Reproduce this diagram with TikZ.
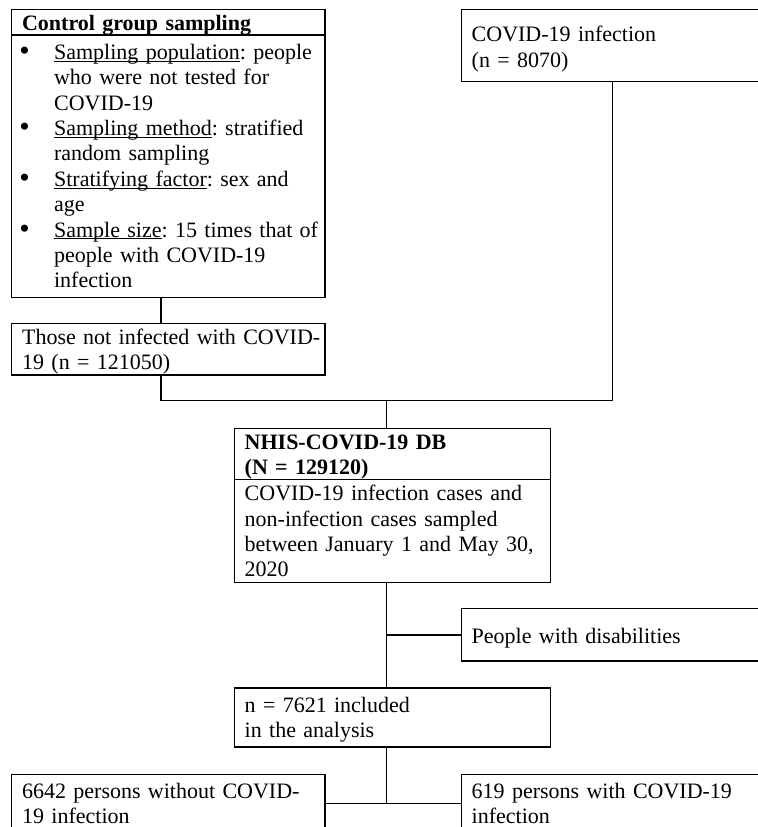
\documentclass[tikz,border=0pt]{standalone}
\usepackage{fontspec}
\usepackage{graphicx}
\setmainfont{Liberation Serif}
\newcommand{\undl}[1]{\setbox0\hbox{#1}\rlap{\rule[-1.15pt]{\wd0}{0.55pt}}\box0}
\newcommand{\bulitem}[1]{\noindent\hangindent=16pt\hangafter=1\makebox[16pt][l]{\hspace{-1.4pt}\raisebox{-0.6pt}{\scalebox{1.35}{\textbullet}}}#1\par}
\begin{document}
\begin{tikzpicture}[x=1pt,y=-1pt,line width=0.65pt,
  box/.style={draw,anchor=north west,outer sep=0pt,inner xsep=5.2pt,inner ysep=0pt,
    align=left,font=\fontsize{11}{12.7}\selectfont\frenchspacing},
  headbox/.style={box,font=\fontsize{11}{12.7}\selectfont\frenchspacing\bfseries}]
\useasboundingbox (0,0) rectangle (379,413.5);
\node[headbox,text width=146.3pt,text height=10.35pt,text depth=2.5pt] (ctrlhead) at (5.85,4.65) {Control group sampling};
\node[box,text width=146.3pt,text height=12.15pt,text depth=119pt] (ctrlbody) at (5.85,17.5) {%
\bulitem{\mbox{\undl{Sampling population}: people}\newline who were not tested for\newline COVID-19}%
\bulitem{\mbox{\undl{Sampling method}: stratified}\newline random sampling}%
\bulitem{\mbox{\undl{Stratifying factor}: sex and}\newline age}%
\bulitem{\mbox{\undl{Sample size}: 15 times that of}\newline people with COVID-19\newline infection}};
\node[box,text width=146.3pt,text height=10.35pt,text depth=15.5pt] (notinf) at (5.85,161.65) {\mbox{Those not infected with COVID-}\\19 (n = 121050)};
\node[box,text width=140.6pt,text height=16.2pt,text depth=20pt] (covid) at (230.65,4.65) {COVID-19 infection\\(n = 8070)};
\node[headbox,text width=147.6pt,text height=10.5pt,text depth=15pt] (nhishead) at (117.15,214.15) {NHIS-COVID-19 DB\\(N = 129120)};
\node[box,text width=147.6pt,text height=10.7pt,text depth=40.8pt] (nhisbody) at (117.15,239.65) {COVID-19 infection cases and\\non-infection cases sampled\\\mbox{between January 1 and May 30,}\\2020};
\node[box,text width=140.6pt,text height=17.3pt,text depth=8.85pt] (disab) at (230.65,304.35) {People with disabilities};
\node[box,text width=147.6pt,text height=12.15pt,text depth=17.35pt] (incl) at (117.15,344) {n = 7621 included\\in the analysis};
\node[box,text width=146.3pt,text height=11.85pt,text depth=17.15pt] (without) at (5.85,387.15) {\mbox{6642 persons without COVID-}\\19 infection};
\node[box,text width=140.6pt,text height=11.85pt,text depth=17.15pt] (with) at (230.65,387.15) {619 persons with COVID-19\\infection};
\coordinate (lcol) at (80.5,0);
\coordinate (join) at (193.25,200.2);
\draw (ctrlbody.south -| lcol) -- (notinf.north -| lcol);
\draw (notinf.south -| lcol) |- (join) -| (covid.south);
\draw (join) -- (nhishead.north -| join);
\draw (nhisbody.south -| join) -- (incl.north -| join);
\draw (disab.west -| join) -- (disab.west);
\draw (incl.south -| join) -- (join |- without.east);
\draw (without.east) -- (with.west);
\end{tikzpicture}
\end{document}
